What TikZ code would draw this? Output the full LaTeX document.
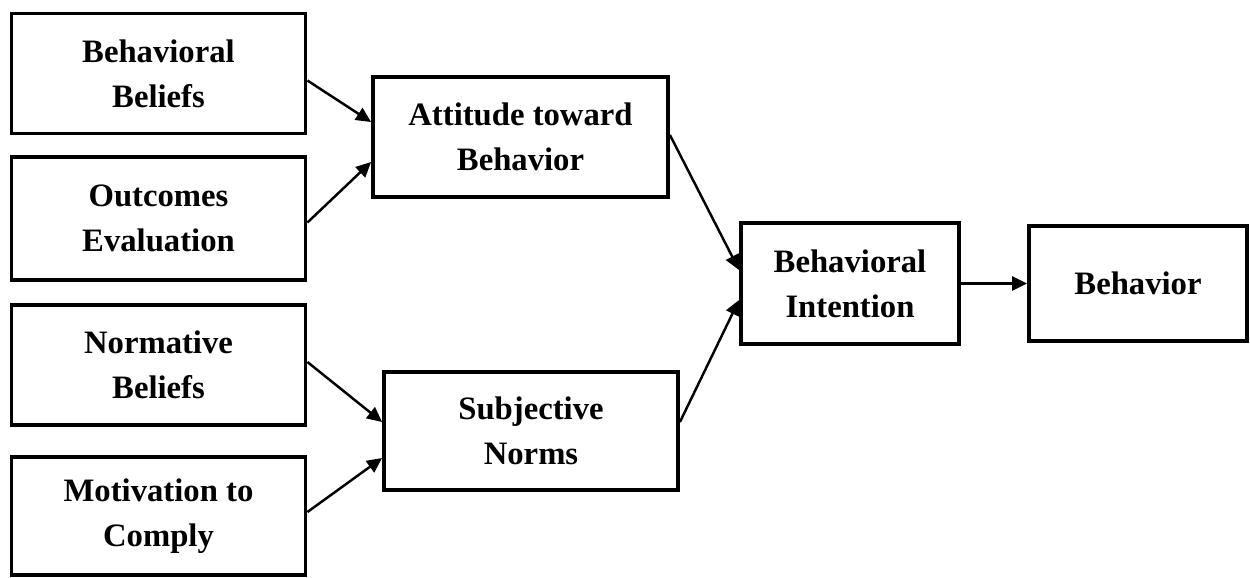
\documentclass[tikz,border=0pt]{standalone}
\usepackage{fontspec}
\setmainfont{Liberation Serif}
\usetikzlibrary{arrows.meta}

\tikzset{
  box/.style={draw, line width=2.2pt, align=center, inner sep=0pt,
    font=\bfseries\fontsize{18.6}{25.6}\selectfont},
  link/.style={-{Triangle[length=0.3cm,width=0.28cm]}, line width=1.4pt}
}

\begin{document}
\begin{tikzpicture}
\useasboundingbox (0,0) rectangle (25,-11.54);

\node [box, minimum width=5.88cm, minimum height=2.4cm] (bb) at (3.17,-1.47) {Behavioral\\Beliefs};
\node [box, minimum width=5.88cm, minimum height=2.46cm] (oe) at (3.17,-4.37) {Outcomes\\Evaluation};
\node [box, minimum width=5.88cm, minimum height=2.4cm] (nb) at (3.17,-7.3) {Normative\\Beliefs};
\node [box, minimum width=5.88cm, minimum height=2.36cm] (mc) at (3.17,-10.32) {Motivation to\\Comply};

\node [box, minimum width=5.9cm, minimum height=2.4cm] (att) at (10.41,-2.74) {Attitude toward\\Behavior};
\node [box, minimum width=5.88cm, minimum height=2.36cm] (sn) at (10.62,-8.62) {Subjective\\Norms};

\node [box, minimum width=4.36cm, minimum height=2.42cm] (bi) at (17.0,-5.67) {Behavioral\\Intention};
\node [box, minimum width=4.36cm, minimum height=2.3cm] (beh) at (22.76,-5.67) {Behavior};

% beliefs to attitude and norms
\draw [link] ([yshift=-0.14cm]bb.east) -- ([yshift=0.3cm]att.west);
\draw [link] ([yshift=-0.08cm]oe.east) -- ([yshift=-0.5cm]att.west);
\draw [link] ([yshift=0.06cm]nb.east) -- ([yshift=0.18cm]sn.west);
\draw [link] ([yshift=0.08cm]mc.east) -- ([yshift=-0.54cm]sn.west);

% to intention and behavior
\draw [link] ([yshift=0.04cm]att.east) -- ([yshift=0.27cm]bi.west);
\draw [link] ([yshift=0.18cm]sn.east) -- ([yshift=-0.33cm]bi.west);
\draw [link] (bi.east) -- (beh.west);

\end{tikzpicture}
\end{document}
